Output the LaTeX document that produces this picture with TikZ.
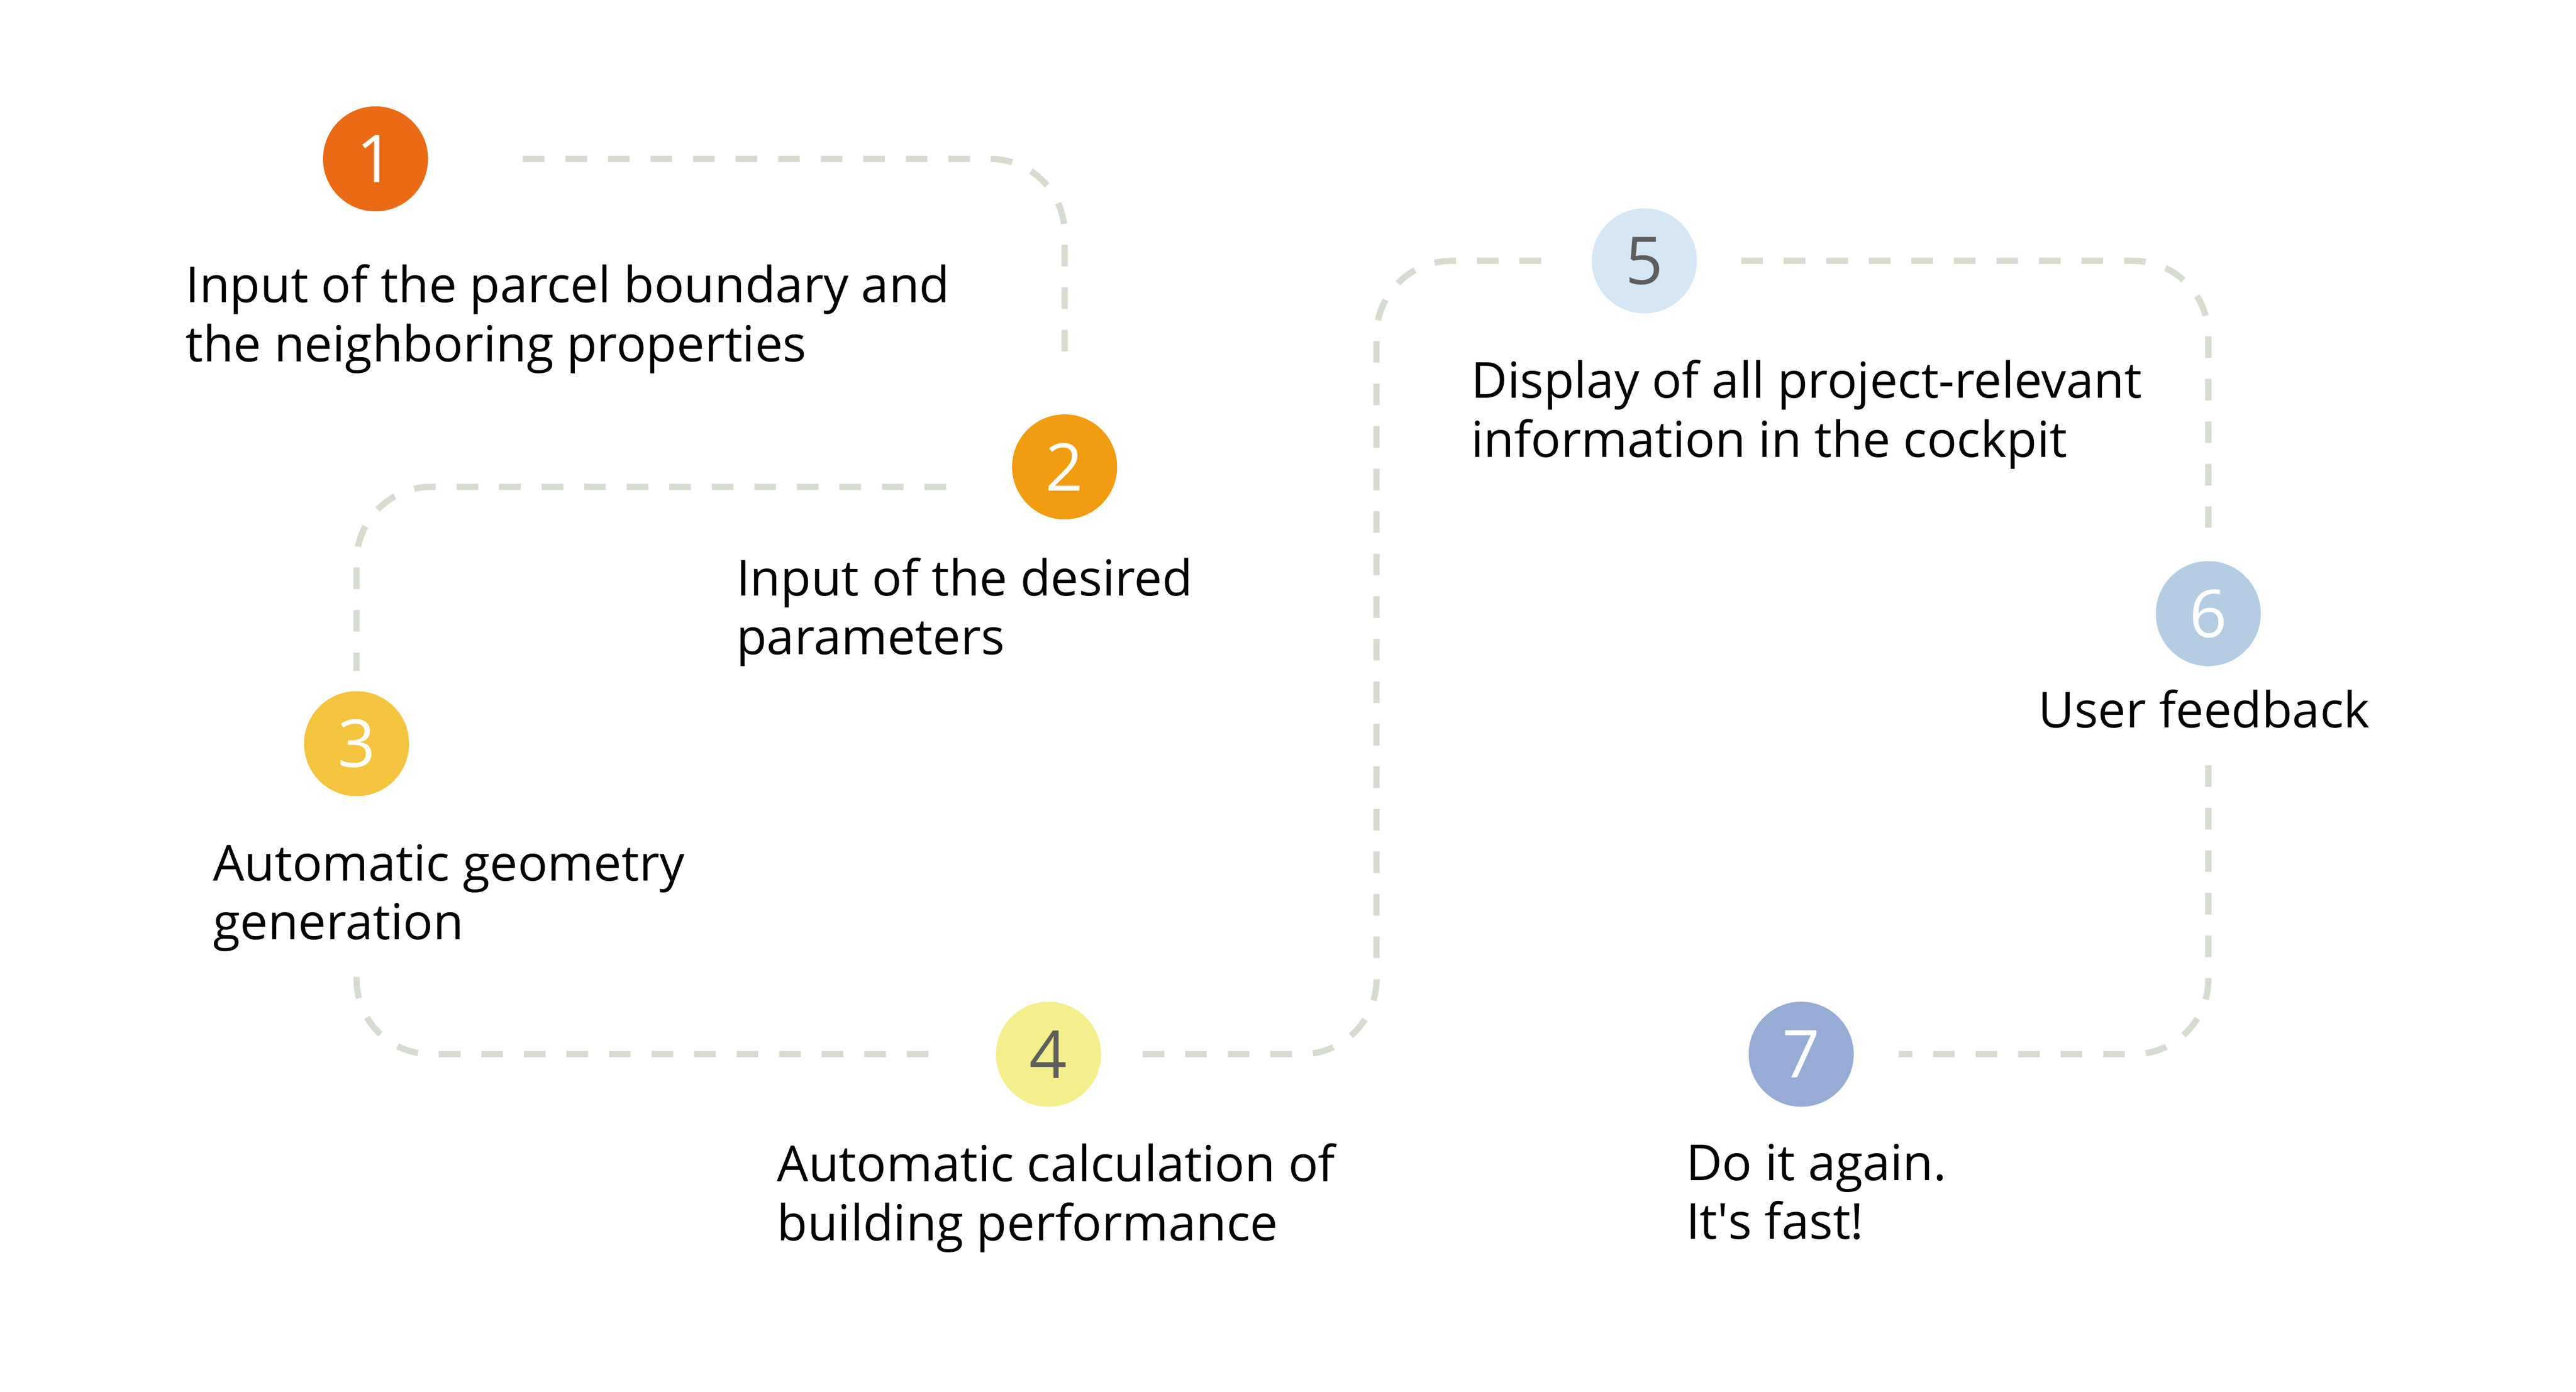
\documentclass[tikz,border=0pt]{standalone}
\usepackage{fontspec}
\setmainfont{Open Sans}
\usetikzlibrary{calc}
\definecolor{stepA}{HTML}{EB6A16}
\definecolor{stepB}{HTML}{F29C11}
\definecolor{stepC}{HTML}{F5C43F}
\definecolor{stepD}{HTML}{F5EE8C}
\definecolor{stepE}{HTML}{D5E6F5}
\definecolor{stepF}{HTML}{B5CDE3}
\definecolor{stepG}{HTML}{96ACD4}
\definecolor{trailgray}{HTML}{D6DBCF}
\definecolor{digitgray}{HTML}{5E5E5E}
\tikzset{
	stepdot/.style={circle, minimum size=0.632cm, inner sep=0pt, text=white, font=\fontsize{11.3}{12}\selectfont},
	steptext/.style={anchor=base west, align=left, inner sep=0pt, font=\fontsize{8.5}{10.1}\selectfont},
	trail/.style={draw=trailgray, line width=0.0375cm, dash pattern=on 0.13cm off 0.126cm, rounded corners=0.45cm}
}
\begin{document}
\begin{tikzpicture}
				\useasboundingbox (0,0) rectangle (15.503,-8.378);
				\node[stepdot, fill=stepA] (n1)at(2.26, -0.956) {1};
				\node[stepdot, fill=stepB] (n2)at(6.407, -2.81) {2};
				\node[stepdot, fill=stepC] (n3)at(2.146, -4.476) {3};
				\node[stepdot, fill=stepD, text=digitgray] (n4)at(6.31, -6.345) {4};
				\node[stepdot, fill=stepE, text=digitgray] (n5)at(9.896, -1.57) {5};
				\node[stepdot, fill=stepF] (n6)at(13.29, -3.693) {6};
				\node[stepdot, fill=stepG] (n7)at(10.84, -6.345) {7};
				\node[steptext] (t1)at(1.11, -2.176) {Input of the parcel boundary and\\the neighboring properties};
				\node[steptext] (t2)at(4.425, -3.94) {Input of the desired\\parameters};
				\node[steptext] (t3)at(1.275, -5.656) {Automatic geometry\\generation};
				\node[steptext] (t4)at(4.67, -7.467) {Automatic calculation of\\building performance};
				\node[steptext] (t5)at(8.848, -2.75) {Display of all project-relevant\\information in the cockpit};
				\node[steptext] (t6)at(12.26, -4.38) {User feedback};
				\node[steptext] (t7)at(10.14, -7.458) {Do it again.\\It\textquotesingle s fast!};
				\coordinate (turn)at(8.284, -1.57);
				\draw[trail] ([xshift=5.64mm]n1.east) -| ([yshift=3.44mm]n2.north);
				\draw[trail] ([xshift=-3.9mm, yshift=-1.2mm]n2.west) -| ([yshift=1.15mm]n3.north);
				\draw[trail] ([yshift=-10.8mm]n3.south) |- ([xshift=-3.84mm]n4.west);
				\draw[trail] ([xshift=2.44mm]n4.east) -| (turn) -- ([xshift=-2.6mm]n5.west);
				\draw[trail] ([xshift=2.6mm]n5.east) -| ([yshift=1.94mm]n6.north);
				\draw[trail] ([yshift=-5.9mm]n6.south) |- ([xshift=2.64mm]n7.east);
			\end{tikzpicture}
\end{document}
